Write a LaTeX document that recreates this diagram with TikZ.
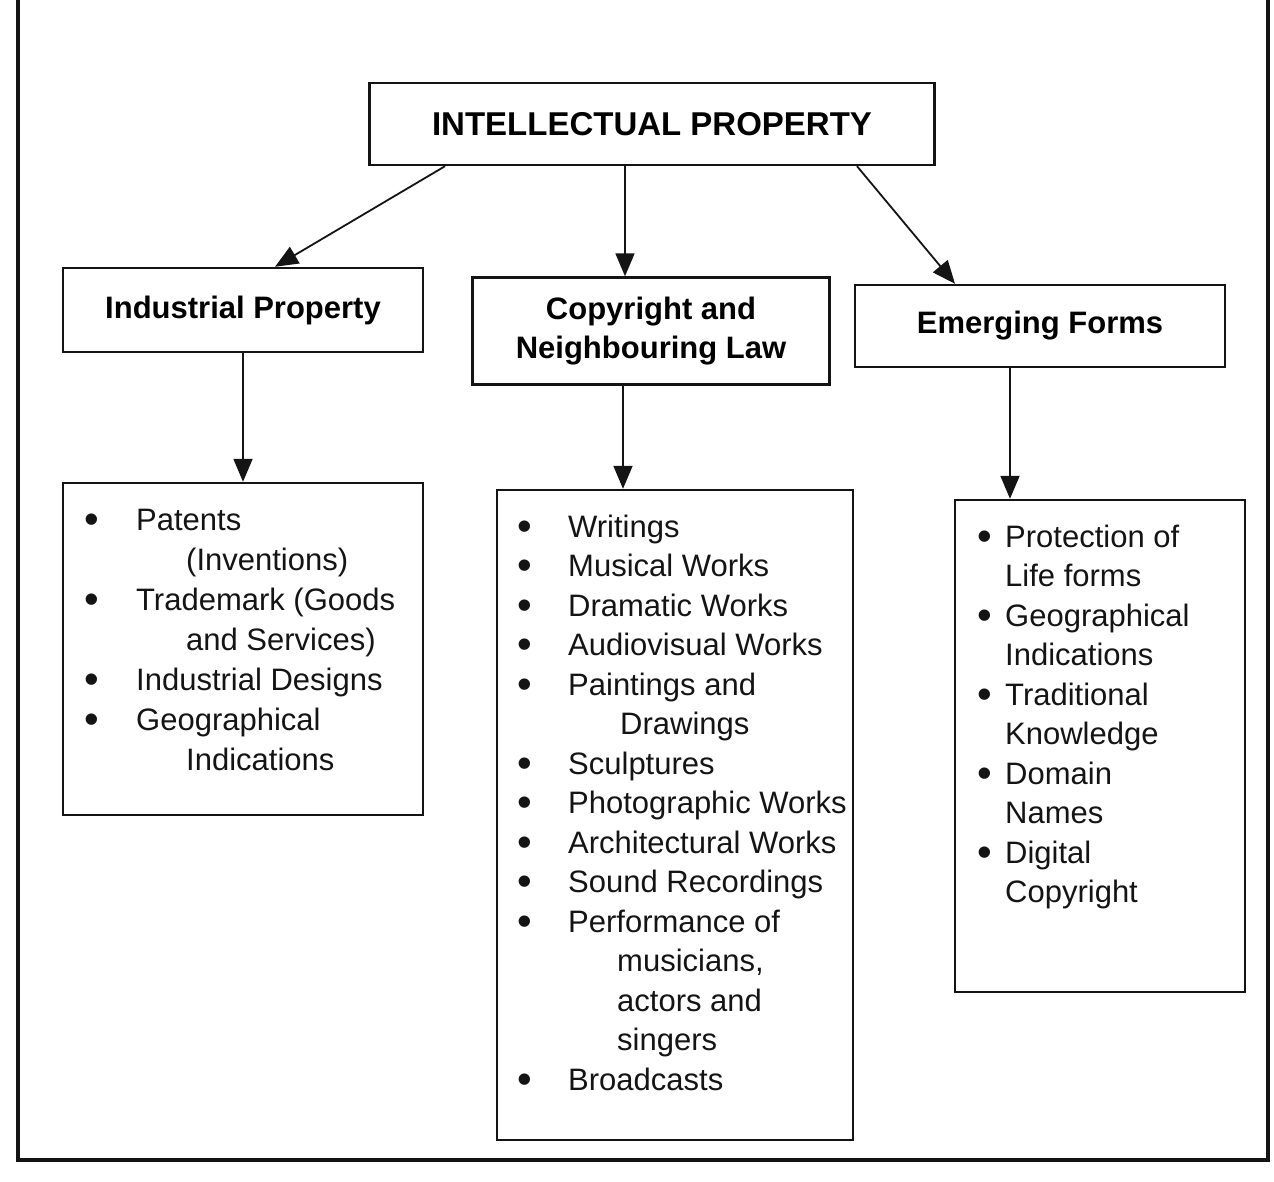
\documentclass[tikz,border=0pt]{standalone}
\usepackage{fontspec}
\setmainfont{Liberation Sans}
\usetikzlibrary{arrows.meta, positioning, calc}
\definecolor{encre}{RGB}{20,20,20}
\newcommand{\puce}{\raisebox{-0.1em}{\scalebox{1.35}{\textbullet}}}

\tikzset{
  box/.style={draw=encre, line width=2.4pt, inner sep=0pt, align=center,
    font=\bfseries\fontsize{31}{39}\selectfont},
  listbox/.style={draw=encre, line width=2.4pt, inner sep=0pt},
  listtext/.style={anchor=base west, inner sep=0pt, text=encre},
  arr/.style={encre, line width=1.8pt, -{Triangle[length=23pt, width=19pt]}},
}

\begin{document}
\begin{tikzpicture}[x=1pt, y=-1pt]
\useasboundingbox (0,0) rectangle (1274,1182);

% cadre ouvert en haut
\draw[encre, line width=3.5pt] (18,0) -- (18,1160) -- (1268,1160) -- (1268,0);

% racine
\node[box, minimum width=565pt, minimum height=82pt,
  font=\bfseries\fontsize{33}{39}\selectfont] (root) at (652,124)
  {INTELLECTUAL PROPERTY};

% trois branches
\node[box, minimum width=360pt, minimum height=84pt] (ind) at (243,310)
  {Industrial Property};
\node[box, minimum width=357pt, minimum height=107pt] (copy) at (651,331)
  {Copyright and\\Neighbouring Law};
\node[box, minimum width=370pt, minimum height=82pt] (emer) at (1040,326)
  {Emerging Forms};

% cadres des listes
\node[listbox, minimum width=360pt, minimum height=332pt] (indlist) at (243,649) {};
\node[listbox, minimum width=356pt, minimum height=650pt] (copylist) at (675,815) {};
\node[listbox, minimum width=290pt, minimum height=492pt] (emerlist) at (1100,746) {};

% contenu des listes
\node[listtext, font=\fontsize{31}{40}\selectfont] (indtext) at (84,530) {%
  \begin{tabular}[t]{@{}p{52pt}@{}l@{}}
  \puce & Patents\\
   & \hspace{50pt}(Inventions)\\
  \puce & Trademark (Goods\\
   & \hspace{50pt}and Services)\\
  \puce & Industrial Designs\\
  \puce & Geographical\\
   & \hspace{50pt}Indications
  \end{tabular}};

\node[listtext, font=\fontsize{31}{39.5}\selectfont] (copytext) at (517,537) {%
  \begin{tabular}[t]{@{}p{51pt}@{}l@{}}
  \puce & Writings\\
  \puce & Musical Works\\
  \puce & Dramatic Works\\
  \puce & Audiovisual Works\\
  \puce & Paintings and\\
   & \hspace{52pt}Drawings\\
  \puce & Sculptures\\
  \puce & Photographic Works\\
  \puce & Architectural Works\\
  \puce & Sound Recordings\\
  \puce & Performance of\\
   & \hspace{49pt}musicians,\\
   & \hspace{49pt}actors and\\
   & \hspace{49pt}singers\\
  \puce & Broadcasts
  \end{tabular}};

\node[listtext, font=\fontsize{31}{39.5}\selectfont] (emertext) at (977,547) {%
  \begin{tabular}[t]{@{}p{28pt}@{}l@{}}
  \puce & Protection of\\
   & Life forms\\
  \puce & Geographical\\
   & Indications\\
  \puce & Traditional\\
   & Knowledge\\
  \puce & Domain\\
   & Names\\
  \puce & Digital\\
   & Copyright
  \end{tabular}};

% fleches
\draw[arr] ([xshift=-207pt]root.south) -- ([xshift=32pt]ind.north);
\draw[arr] ([xshift=-27pt]root.south) -- ([xshift=-26pt]copy.north);
\draw[arr] ([xshift=205pt]root.south) -- ([xshift=-85pt]emer.north);
\draw[arr] (ind.south) -- (indlist.north);
\draw[arr] ([xshift=-28pt]copy.south) -- ([xshift=-52pt]copylist.north);
\draw[arr] ([xshift=-30pt]emer.south) -- ([xshift=-90pt]emerlist.north);
\end{tikzpicture}
\end{document}
